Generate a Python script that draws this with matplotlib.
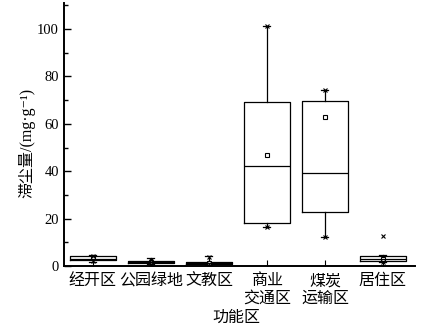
import matplotlib.pyplot as plt
from matplotlib.ticker import MultipleLocator

plt.rcParams['font.family'] = ['Liberation Serif', 'Noto Sans CJK SC', 'DejaVu Sans']

CATS = ['经开区', '公园绿地', '文教区', '商业\n交通区', '煤炭\n运输区', '居住区']
Q1 = [2.5, 1.3, 0.9, 18.3, 22.7, 2.2]
MED = [3.2, 1.6, 1.3, 42.1, 39.4, 3.0]
Q3 = [4.2, 2.0, 1.8, 69.3, 69.8, 4.4]
WLO = [1.8, 0.9, 0.6, 16.6, 12.4, 1.6]
WHI = [4.5, 3.6, 4.2, 101.3, 74.3, 4.6]
MEAN = [3.3, 1.6, 1.5, 46.8, 62.9, 3.2]
XMARK_LO = [2.0, 1.0, 0.8, 16.6, 12.4, 1.8]
XMARK_HI = [4.2, 2.4, 4.0, 101.3, 74.3, 12.8]

stats = [dict(q1=a, med=b, q3=c, whislo=d, whishi=e, fliers=[], label=l)
         for a, b, c, d, e, l in zip(Q1, MED, Q3, WLO, WHI, CATS)]
pos = list(range(1, len(CATS) + 1))

fig = plt.figure(figsize=(4.29, 3.29), dpi=100)
ax = fig.add_axes([0.149, 0.191, 0.818, 0.80])
lp = dict(color='black', linewidth=0.9)
ax.bxp(stats, positions=pos, widths=0.8, boxprops=lp, medianprops=lp,
       whiskerprops=lp, capprops=lp, capwidths=0.12, showfliers=False)
ax.plot(pos, MEAN, 's', ms=3, mfc='white', mec='black', mew=0.8, ls='none')
ax.plot(pos, XMARK_LO, 'x', ms=3, color='black', mew=0.8, ls='none')
ax.plot(pos, XMARK_HI, 'x', ms=3, color='black', mew=0.8, ls='none')

ax.set_xlim(0.5, 6.55)
ax.set_ylim(0, 111)
ax.set_xticks(pos)
ax.set_xticklabels(CATS, fontsize=11.5, linespacing=1.1)
ax.yaxis.set_major_locator(MultipleLocator(20))
ax.yaxis.set_minor_locator(MultipleLocator(10))
ax.tick_params(axis='y', which='major', direction='in', length=5, width=1, labelsize=10.5)
ax.tick_params(axis='y', which='minor', direction='in', length=3, width=1)
ax.tick_params(axis='x', direction='in', length=4, width=0.8, pad=5)
for s in ['top', 'right']:
    ax.spines[s].set_visible(False)
for s in ['left', 'bottom']:
    ax.spines[s].set_linewidth(1.4)
ax.set_ylabel('滞尘量/(mg·g⁻¹)', fontsize=11.5)
ax.yaxis.set_label_coords(-0.08, 0.47)
ax.set_xlabel('功能区', fontsize=11.5)
ax.xaxis.set_label_coords(0.49, -0.165)

fig.savefig('out.png', dpi=100)
